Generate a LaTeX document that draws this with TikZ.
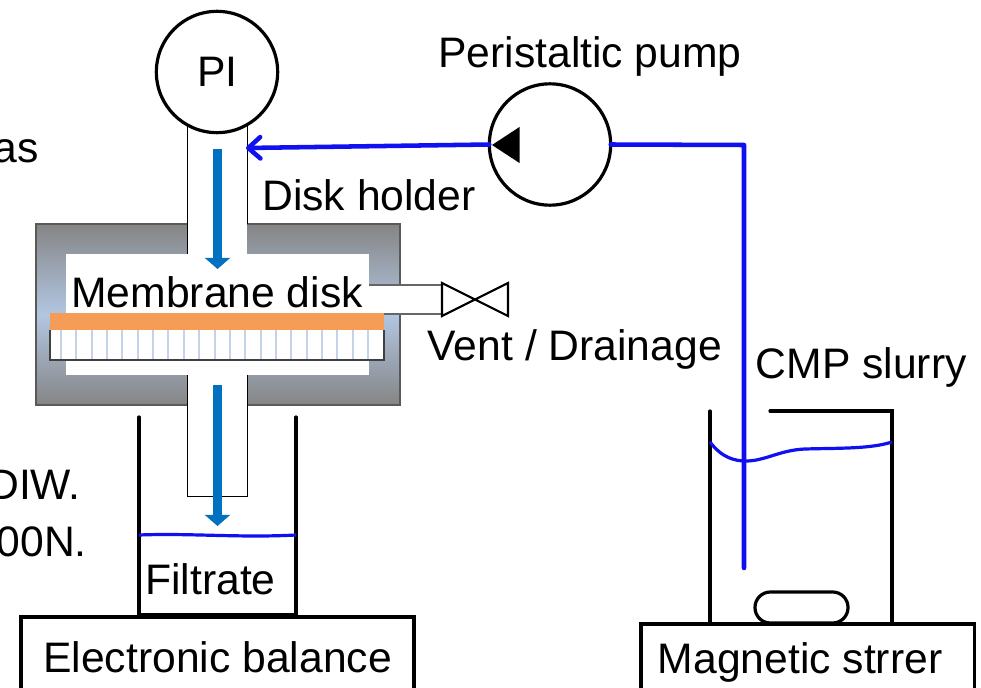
\documentclass[tikz,border=0pt]{standalone}
\usepackage{xcolor}
\usepackage{fontspec}
\setmainfont{Liberation Sans}
\usetikzlibrary{positioning,arrows.meta}
\definecolor{slurryblue}{HTML}{1010F0}
\definecolor{flowblue}{HTML}{0070C0}
\definecolor{bodygray}{HTML}{858585}
\definecolor{bodyblue}{HTML}{B2C6E2}
\definecolor{diskorange}{HTML}{F59D56}
\definecolor{poreblue}{HTML}{C4D3E8}

\begin{document}
\begin{tikzpicture}[x=0.75pt,y=-0.75pt,
    roundnode/.style={circle, draw=black, fill=white, line width=2.4pt, minimum size=91pt, inner sep=0pt, outer sep=0pt},
    boxnode/.style={rectangle, draw=black, fill=white, line width=2.4pt, anchor=north west, outer sep=0pt},
    labeltext/.style={inner sep=0pt, font=\fontsize{32}{36}\selectfont, anchor=base west},
    wall/.style={line width=2.4pt, line cap=round},
    holderline/.style={line width=0.7pt},
    slurryline/.style={draw=slurryblue, line width=3.4pt, line cap=round, line join=round},
    liquidline/.style={draw=slurryblue, line width=2.4pt},
    flowarrow/.style={draw=flowblue, line width=6.8pt, -{Triangle[width=18.8pt,length=8.4pt]}},]
            \path[use as bounding box, clip](0,0) rectangle (981,688);

            %Holder
            \shade[top color=bodygray, bottom color=bodygray, middle color=bodyblue](36,224) rectangle (400,405);
            \draw[draw=black!65, line width=1pt](36,224) rectangle (400,405);
            \fill[white](187,120) rectangle (247,254);
            \fill[white](66,254) rectangle (369,375);
            \fill[white](187,375) rectangle (247,496);
            \fill[white](369,285) rectangle (442,314);
            \draw[holderline](187,120)--(187,254);
            \draw[holderline](247,120)--(247,224);
            \draw[holderline](187,375)--(187,496)--(247,496)--(247,375);
            \draw[draw=black!60, line width=0.9pt](369,285)--(442,285);
            \draw[draw=black!60, line width=0.9pt](384,314)--(442,314);

            %Membrane
            \fill[white](50,330) rectangle (384,360);
            \foreach \xpore in {0,...,20}
                \draw[draw=poreblue, line width=1.5pt](61+15.35*\xpore,330)--(61+15.35*\xpore,360);
            \draw[draw=black!75, line width=1pt](50,330)--(50,360)--(384,360)--(384,330);
            \fill[diskorange](50,313) rectangle (384,330);

            %Valve
            \draw[line width=1.6pt](442,283)--(508,316)--(508,283)--(442,316)--cycle;

            %Nodes
            \node[roundnode](pi_gauge) at (217,72){};
            \node[roundnode](pump) at (550,144.5){};
            \node[labeltext,anchor=south](pump_text)[above=5.4pt of pump, xshift=30pt]{Peristaltic pump};
            \node[labeltext](pi_text) at (197,87){PI};
            \node[labeltext](holder_text) at (262,210){Disk holder};
            \node[labeltext](disk_text) at (71,307.5){Membrane disk};
            \node[labeltext](vent_text) at (427.5,360.5){Vent / Drainage};
            \node[labeltext](slurry_text) at (755.5,378.5){CMP slurry};
            \node[labeltext](filtrate_text) at (145,594.5){Filtrate};
            \node[labeltext,anchor=base east](cut_text_1) at (39,162){as};
            \node[labeltext,anchor=base east](cut_text_2) at (81,499){DIW.};
            \node[labeltext,anchor=base east](cut_text_3) at (87,556){00N.};
            \node[boxnode, minimum width=294.75pt, minimum height=70pt](balance) at (21,617){};
            \node[labeltext](balance_text) at (43,672){Electronic balance};
            \node[boxnode, minimum width=250pt, minimum height=70pt](stirrer) at (641,624){};
            \node[labeltext](stirrer_text) at (657.5,673){Magnetic strrer};
            \coordinate (inlet) at (246,148);
            \coordinate (corner) at (744,145);
            \coordinate (dip_end) at (744,568);
            \coordinate (top_flow_start) at (217.5,149);
            \coordinate (top_flow_end) at (217.5,269);
            \coordinate (low_flow_start) at (217.5,385);
            \coordinate (low_flow_end) at (217.5,526);

            %Beakers
            \draw[wall](139,417)--(139,614.5)--(296,614.5)--(296,417);
            \draw[wall](710,411)--(710,623);
            \draw[wall](770,411)--(892,411)--(892,623);
            \draw[wall, rounded corners=11.5pt](755,623) rectangle (848,592);

            %Liquid
            \draw[liquidline](139,535) .. controls (190,533) and (240,538) .. (296,535);
            \draw[liquidline](710,442) .. controls (722,458) and (735,461) .. (746,461) .. controls (765,461) and (780,450) .. (805,449) .. controls (840,448) and (870,449) .. (892,442);

            %Lines
            \draw[flowarrow](top_flow_start)--(top_flow_end);
            \draw[flowarrow](low_flow_start)--(low_flow_end);
            \draw[slurryline,-{Straight Barb[length=9pt,width=16pt,round]}](pump.west)--(inlet);
            \draw[slurryline](pump.east)--(corner)--(dip_end);
            \fill[black](492,145)--(519.5,127)--(519.5,163)--cycle;
        \end{tikzpicture}
\end{document}
